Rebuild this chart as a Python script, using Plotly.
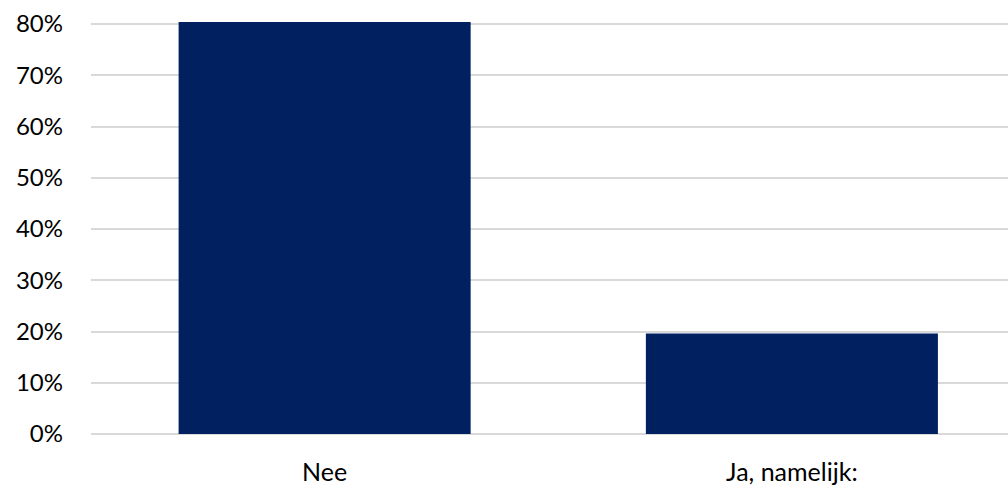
import plotly.graph_objects as go

categories = ["Nee", "Ja, namelijk:"]
values = [0.804, 0.196]
tick_vals = [0, 0.1, 0.2, 0.3, 0.4, 0.5, 0.6, 0.7, 0.8]
tick_text = ["0%", "10%", "20%", "30%", "40%", "50%", "60%", "70%", "80%"]

fig = go.Figure(go.Bar(x=categories, y=values, marker=dict(color="#002060", line=dict(width=0)),
                       width=0.625))
fig.update_layout(
    width=1008, height=487,
    margin=dict(l=91, r=0, t=22, b=53),
    plot_bgcolor="white", paper_bgcolor="white",
    font=dict(family="Lato, Open Sans, sans-serif", size=24, color="#000000"),
    showlegend=False,
    bargap=0.375,
)
fig.update_yaxes(range=[0, 0.804], tickvals=tick_vals, ticktext=tick_text,
                 showgrid=True, gridcolor="#d9d9d9", gridwidth=1.5,
                 zeroline=True, zerolinecolor="#d9d9d9", zerolinewidth=1.5,
                 showline=False, ticks="", ticklabelstandoff=27, automargin=False)
fig.update_xaxes(range=[-0.5, 1.4625], showgrid=False, showline=False, ticks="",
                 tickfont=dict(size=25), ticklabelstandoff=21, automargin=False)
fig.write_html("out.html", config={"displayModeBar": False},
               post_script="document.body.style.margin='0';document.body.style.overflow='hidden';")
